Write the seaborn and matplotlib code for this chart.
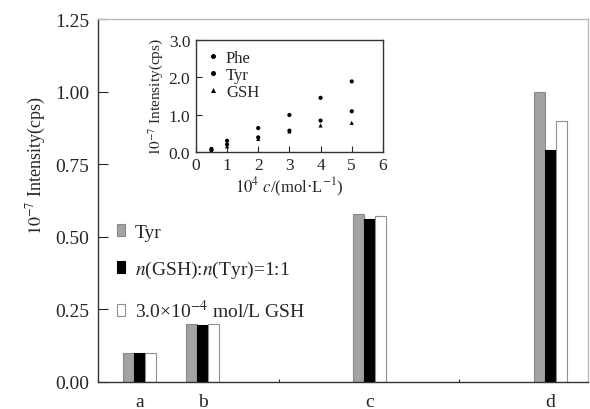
import numpy as np
import pandas as pd
import matplotlib
matplotlib.use("Agg")
import matplotlib.pyplot as plt
import seaborn as sns

# main bar data
groups = ["a", "b", "c", "d"]
group_pos = [0.46, 1.16, 3.01, 5.01]
series = ["Tyr", "$n$(GSH):$n$(Tyr)=1:1", "3.0×10$^{-4}$ mol/L GSH"]
tyr_vals = [0.10, 0.20, 0.58, 1.00]
mix_vals = [0.10, 0.195, 0.56, 0.80]
gsh_vals = [0.10, 0.20, 0.57, 0.90]

# inset scatter data
conc = [0.5, 1, 2, 3, 4, 5]
phe_int = [0.08, 0.30, 0.64, 0.99, 1.45, 1.89]
tyr_int = [0.05, 0.20, 0.39, 0.57, 0.84, 1.09]
gsh_int = [0.04, 0.15, 0.35, 0.55, 0.71, 0.78]

sns.set_style("ticks")
plt.rcParams["font.family"] = ["Liberation Serif", "DejaVu Serif"]
plt.rcParams["mathtext.fontset"] = "stix"

bars = pd.DataFrame({
    "pos": group_pos * 3,
    "val": tyr_vals + mix_vals + gsh_vals,
    "series": [series[0]] * 4 + [series[1]] * 4 + [series[2]] * 4,
})

fig = plt.figure(figsize=(5.9, 4.1), dpi=100)
ax = fig.add_axes([0.166, 0.066, 0.831, 0.885])

sns.barplot(data=bars, x="pos", y="val", hue="series", hue_order=series,
            native_scale=True, width=0.53, errorbar=None,
            palette=["#a3a3a3", "#000000", "#ffffff"], ax=ax, legend=False)

edges = {0: "#8a8a8a", 1: "#000000", 2: "#909090"}
for i, cont in enumerate(ax.containers):
    for p in cont:
        p.set_edgecolor(edges[i])
        p.set_linewidth(0.8)

ax.set_xlim(0, 5.43)
ax.set_ylim(0, 1.25)
ax.set_yticks([0, 0.25, 0.5, 0.75, 1.0, 1.25])
ax.set_yticklabels(["0.00", "0.25", "0.50", "0.75", "1.00", "1.25"])
ax.set_xticks(group_pos)
ax.set_xticklabels(groups)
ax.set_xticks([1, 2, 3, 4, 5], minor=True)
ax.tick_params(axis="x", which="major", length=0, pad=8, labelsize=14)
ax.tick_params(axis="x", which="minor", direction="in", length=2, width=0.8)
ax.tick_params(axis="y", direction="in", length=7, width=0.8, labelsize=14, pad=6)
ax.set_xlabel("")
ax.set_ylabel("$10^{-7}$ Intensity(cps)", fontsize=13)
ax.yaxis.set_label_coords(-0.102, 0.6)
for s in ["left", "bottom"]:
    ax.spines[s].set_color("#333333")
    ax.spines[s].set_linewidth(1.0)
for s in ["top", "right"]:
    ax.spines[s].set_visible(True)
    ax.spines[s].set_color("#bbbbbb")
    ax.spines[s].set_linewidth(1.0)

handles = [plt.Rectangle((0, 0), 1, 1, facecolor=c, edgecolor=e, linewidth=0.8)
           for c, e in zip(["#a3a3a3", "#000000", "#ffffff"], edges.values())]
ax.legend(handles, series, loc="lower left", bbox_to_anchor=(0.0, 0.115),
          frameon=False, fontsize=14, handlelength=0.4, handleheight=0.55,
          handletextpad=0.5, labelspacing=0.95, borderaxespad=0.6)

# inset
ins = fig.add_axes([0.332, 0.627, 0.317, 0.273])
pts = pd.DataFrame({
    "c": conc * 3,
    "I": phe_int + tyr_int + gsh_int,
    "kind": ["Phe"] * 6 + ["Tyr"] * 6 + ["GSH"] * 6,
})
sns.scatterplot(data=pts, x="c", y="I", style="kind",
                markers={"Phe": "o", "Tyr": "o", "GSH": "^"},
                color="black", s=9, linewidth=0, ax=ins)
ins.set_xlim(0, 6)
ins.set_ylim(0, 3.0)
ins.set_xticks(range(0, 7))
ins.set_yticks([0, 1, 2, 3])
ins.set_yticklabels(["0.0", "1.0", "2.0", "3.0"])
ins.tick_params(direction="in", length=4, width=0.8, labelsize=12.5, pad=4)
ins.set_xlabel("$10^4$ $c$/(mol·L$^{-1}$)", fontsize=12, labelpad=1)
ins.set_ylabel("$10^{-7}$ Intensity(cps)", fontsize=11, labelpad=3)
for s in ins.spines.values():
    s.set_visible(True)
    s.set_color("#333333")
    s.set_linewidth(1.0)
ins.legend(loc="upper left", frameon=False, fontsize=12, handlelength=0.8,
           handletextpad=0.4, labelspacing=0.05, borderaxespad=0.2,
           markerscale=1.2, title=None)

fig.savefig("out.png", dpi=100)
